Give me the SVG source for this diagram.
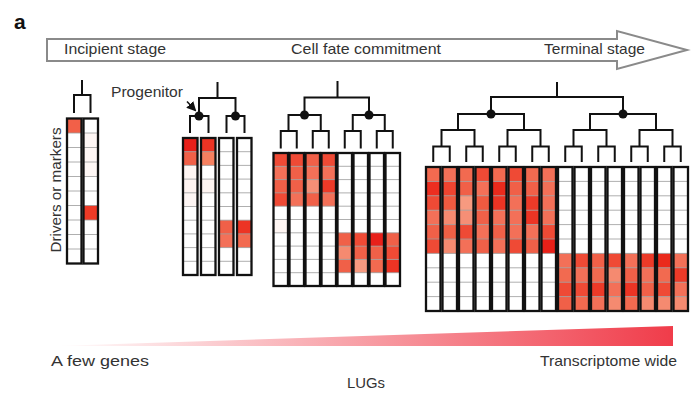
<svg xmlns="http://www.w3.org/2000/svg" xmlns:xlink="http://www.w3.org/1999/xlink" width="700" height="398" viewBox="0 0 700 398">
<style>
.t{font-family:"Liberation Sans",Arial,sans-serif;fill:#333}
.fr{fill:none;stroke:#111;stroke-width:2.3}
.rl{fill:none;stroke:#9a9a9a;stroke-width:0.8}
.tree{fill:none;stroke:#111;stroke-width:2}
</style>
<defs>
<linearGradient id="lg" x1="0" y1="0" x2="1" y2="0">
<stop offset="0" stop-color="#f03c4a" stop-opacity="0"/>
<stop offset="1" stop-color="#f03c4a" stop-opacity="1"/>
</linearGradient>
<marker id="ah" viewBox="0 0 10 10" refX="8" refY="5" markerWidth="6" markerHeight="6" orient="auto">
<path d="M0,0 L10,5 L0,10 z" fill="#111"/>
</marker>
<rect id="c1" width="14.5" height="14.5"/>
<rect id="c2" width="14.5" height="13.7"/>
<rect id="c3" width="14.5" height="13.3"/>
<rect id="c4" width="14.5" height="14.4"/>
<g id="f1"><path class="rl" d="M0,14.5H14.5M0,29H14.5M0,43.5H14.5M0,58H14.5M0,72.5H14.5M0,87H14.5M0,101.5H14.5M0,116H14.5M0,130.5H14.5"/><rect class="fr" width="14.5" height="145"/></g>
<g id="f2"><path class="rl" d="M0,13.7H14.5M0,27.4H14.5M0,41.1H14.5M0,54.8H14.5M0,68.5H14.5M0,82.2H14.5M0,95.9H14.5M0,109.6H14.5M0,123.3H14.5"/><rect class="fr" width="14.5" height="137"/></g>
<g id="f3"><path class="rl" d="M0,13.3H14.5M0,26.6H14.5M0,39.9H14.5M0,53.2H14.5M0,66.5H14.5M0,79.8H14.5M0,93.1H14.5M0,106.4H14.5M0,119.7H14.5"/><rect class="fr" width="14.5" height="133"/></g>
<g id="f4"><path class="rl" d="M0,14.4H14.5M0,28.8H14.5M0,43.2H14.5M0,57.6H14.5M0,72H14.5M0,86.4H14.5M0,100.8H14.5M0,115.2H14.5M0,129.6H14.5"/><rect class="fr" width="14.5" height="144"/></g>
</defs>
<rect width="700" height="398" fill="#fff"/>

<g id="panel-label"><text class="t" x="14" y="29" font-size="21" font-weight="bold" style="fill:#111">a</text></g>

<g id="stage-arrow">
<polygon points="47,39 617,39 617,31 687,50 617,69 617,61 47,61" fill="#fff" stroke="#8a8a8a" stroke-width="2"/>
<text class="t" x="64" y="54" font-size="15" textLength="102" lengthAdjust="spacingAndGlyphs">Incipient stage</text>
<text class="t" x="291" y="54" font-size="15" textLength="150" lengthAdjust="spacingAndGlyphs">Cell fate commitment</text>
<text class="t" x="544" y="54" font-size="15" textLength="101" lengthAdjust="spacingAndGlyphs">Terminal stage</text>
</g>

<g id="axis-label"><text class="t" transform="translate(61,190) rotate(-90)" text-anchor="middle" font-size="15" textLength="125" lengthAdjust="spacingAndGlyphs">Drivers or markers</text></g>

<g id="progenitor-label"><text class="t" x="111" y="97" font-size="15" textLength="72" lengthAdjust="spacingAndGlyphs">Progenitor</text></g>

<g id="connectors">
<path class="tree" d="M82,80V95M74,113V95H90.5V113"/>
<path class="tree" d="M217.5,82V98M199,116V98H235.5V116M190,133V116H208.5V133M226.5,133V116H244.5V133"/>
<circle cx="199" cy="116" r="4.5" fill="#111"/>
<circle cx="235.5" cy="116" r="4.5" fill="#111"/>
<path d="M187,101.5L195,110" fill="none" stroke="#111" stroke-width="1.6" marker-end="url(#ah)"/>
<path class="tree" d="M337.5,81V97.5M304.5,115V97.5H369V115M288.5,131V115H320.75V131M352.75,131V115H384.75V131M280.75,148.5V131H296.75V148.5M312.75,148.5V131H328.75V148.5M344.75,148.5V131H360.75V148.5M376.75,148.5V131H392.75V148.5"/>
<circle cx="304.5" cy="115" r="4.5" fill="#111"/>
<circle cx="369" cy="115" r="4.5" fill="#111"/>
<path class="tree" d="M557,82V97M491,114V97H623V114M458,130V114H524V130M590,130V114H656V130M441.5,146.5V130H474.5V146.5M507.5,146.5V130H540.5V146.5M573.5,146.5V130H606.5V146.5M639.5,146.5V130H672.5V146.5M433.25,162V146.5H449.75V162M466.25,162V146.5H482.75V162M499.25,162V146.5H515.75V162M532.25,162V146.5H548.75V162M565.25,162V146.5H581.75V162M598.25,162V146.5H614.75V162M631.25,162V146.5H647.75V162M664.25,162V146.5H680.75V162"/>
<circle cx="491" cy="114" r="4.5" fill="#111"/>
<circle cx="623" cy="114" r="4.5" fill="#111"/>
</g>

<g id="cluster-1">
<g transform="translate(67,118.5)"><use href="#c1" y="0" fill="#f26048"/><use href="#f1"/></g>
<g transform="translate(83.5,118.5)"><use href="#c1" y="14.5" fill="#fef6f4"/><use href="#c1" y="29" fill="#fef6f4"/><use href="#c1" y="43.5" fill="#fef7f5"/><use href="#c1" y="87" fill="#ee3a26"/><use href="#f1"/></g>
</g>

<g id="cluster-2">
<g transform="translate(183,138)"><use href="#c2" y="0" fill="#e8201a"/><use href="#c2" y="13.7" fill="#f06048"/><use href="#c2" y="27.4" fill="#fef5f2"/><use href="#c2" y="41.1" fill="#fef3f0"/><use href="#c2" y="54.8" fill="#fef6f4"/><use href="#f2"/></g>
<g transform="translate(201,138)"><use href="#c2" y="0" fill="#ec3424"/><use href="#c2" y="13.7" fill="#f58060"/><use href="#c2" y="41.1" fill="#fef5f2"/><use href="#f2"/></g>
<g transform="translate(219,138)"><use href="#c2" y="82.2" fill="#f06048"/><use href="#c2" y="95.9" fill="#f37058"/><use href="#f2"/></g>
<g transform="translate(237,138)"><use href="#c2" y="82.2" fill="#ec3424"/><use href="#c2" y="95.9" fill="#f26a50"/><use href="#f2"/></g>
</g>

<g id="cluster-3">
<g transform="translate(273.5,153)"><use href="#c3" y="0" fill="#ef4a35"/><use href="#c3" y="13.3" fill="#f37058"/><use href="#c3" y="26.6" fill="#f06048"/><use href="#c3" y="39.9" fill="#ef4a35"/><use href="#c3" y="66.5" fill="#fef5f2"/><use href="#f3"/></g>
<g transform="translate(289.5,153)"><use href="#c3" y="0" fill="#ef4a35"/><use href="#c3" y="13.3" fill="#f06048"/><use href="#c3" y="26.6" fill="#f06048"/><use href="#c3" y="39.9" fill="#f37058"/><use href="#f3"/></g>
<g transform="translate(305.5,153)"><use href="#c3" y="0" fill="#f06048"/><use href="#c3" y="13.3" fill="#f37058"/><use href="#c3" y="26.6" fill="#f58f76"/><use href="#c3" y="39.9" fill="#f06048"/><use href="#f3"/></g>
<g transform="translate(321.5,153)"><use href="#c3" y="0" fill="#ef4a35"/><use href="#c3" y="13.3" fill="#f37058"/><use href="#c3" y="26.6" fill="#ec3a28"/><use href="#c3" y="39.9" fill="#f37058"/><use href="#f3"/></g>
<g transform="translate(337.5,153)"><use href="#c3" y="79.8" fill="#f06048"/><use href="#c3" y="93.1" fill="#f58a70"/><use href="#c3" y="106.4" fill="#f06048"/><use href="#f3"/></g>
<g transform="translate(353.5,153)"><use href="#c3" y="79.8" fill="#ef4a35"/><use href="#c3" y="93.1" fill="#f06048"/><use href="#c3" y="106.4" fill="#f79a80"/><use href="#f3"/></g>
<g transform="translate(369.5,153)"><use href="#c3" y="79.8" fill="#e8201a"/><use href="#c3" y="93.1" fill="#f06048"/><use href="#c3" y="106.4" fill="#f26a50"/><use href="#f3"/></g>
<g transform="translate(385.5,153)"><use href="#c3" y="79.8" fill="#f06048"/><use href="#c3" y="93.1" fill="#ef4a35"/><use href="#c3" y="106.4" fill="#ec3424"/><use href="#f3"/></g>
</g>

<g id="cluster-4">
<g transform="translate(426,167)"><use href="#c4" y="0" fill="#f36a50"/><use href="#c4" y="14.4" fill="#ec2e20"/><use href="#c4" y="28.8" fill="#ef4a35"/><use href="#c4" y="43.2" fill="#f37058"/><use href="#c4" y="57.6" fill="#f06048"/><use href="#c4" y="72" fill="#ef4a35"/><use href="#f4"/></g>
<g transform="translate(442.5,167)"><use href="#c4" y="0" fill="#f37058"/><use href="#c4" y="14.4" fill="#ef4430"/><use href="#c4" y="28.8" fill="#f05a40"/><use href="#c4" y="43.2" fill="#f58a70"/><use href="#c4" y="57.6" fill="#f06045"/><use href="#c4" y="72" fill="#f58a70"/><use href="#f4"/></g>
<g transform="translate(459,167)"><use href="#c4" y="0" fill="#f26a50"/><use href="#c4" y="14.4" fill="#f06048"/><use href="#c4" y="28.8" fill="#f79a80"/><use href="#c4" y="43.2" fill="#f58f76"/><use href="#c4" y="57.6" fill="#ee4a35"/><use href="#c4" y="72" fill="#f37058"/><use href="#f4"/></g>
<g transform="translate(475.5,167)"><use href="#c4" y="0" fill="#ef4a35"/><use href="#c4" y="14.4" fill="#f37058"/><use href="#c4" y="28.8" fill="#f05a40"/><use href="#c4" y="43.2" fill="#f06048"/><use href="#c4" y="57.6" fill="#f37058"/><use href="#c4" y="72" fill="#f06048"/><use href="#f4"/></g>
<g transform="translate(492,167)"><use href="#c4" y="0" fill="#f26a50"/><use href="#c4" y="14.4" fill="#ea2a1c"/><use href="#c4" y="28.8" fill="#ec3424"/><use href="#c4" y="43.2" fill="#f37058"/><use href="#c4" y="57.6" fill="#f06048"/><use href="#c4" y="72" fill="#f37058"/><use href="#f4"/></g>
<g transform="translate(508.5,167)"><use href="#c4" y="0" fill="#ef4a35"/><use href="#c4" y="14.4" fill="#f06048"/><use href="#c4" y="28.8" fill="#f37058"/><use href="#c4" y="43.2" fill="#f37058"/><use href="#c4" y="57.6" fill="#f37058"/><use href="#c4" y="72" fill="#ef4a35"/><use href="#f4"/></g>
<g transform="translate(525,167)"><use href="#c4" y="0" fill="#f26a50"/><use href="#c4" y="14.4" fill="#f06048"/><use href="#c4" y="28.8" fill="#ec3a28"/><use href="#c4" y="43.2" fill="#ec3424"/><use href="#c4" y="57.6" fill="#f37058"/><use href="#c4" y="72" fill="#f06048"/><use href="#f4"/></g>
<g transform="translate(541.5,167)"><use href="#c4" y="0" fill="#f37058"/><use href="#c4" y="14.4" fill="#f37058"/><use href="#c4" y="28.8" fill="#f37058"/><use href="#c4" y="43.2" fill="#f37058"/><use href="#c4" y="57.6" fill="#ef4a35"/><use href="#c4" y="72" fill="#e82018"/><use href="#f4"/></g>
<g transform="translate(558,167)"><use href="#c4" y="86.4" fill="#f37058"/><use href="#c4" y="100.8" fill="#f26a50"/><use href="#c4" y="115.2" fill="#ef4a35"/><use href="#c4" y="129.6" fill="#f06048"/><use href="#f4"/></g>
<g transform="translate(574.5,167)"><use href="#c4" y="86.4" fill="#ef4a35"/><use href="#c4" y="100.8" fill="#f37058"/><use href="#c4" y="115.2" fill="#ef4a35"/><use href="#c4" y="129.6" fill="#f26a50"/><use href="#f4"/></g>
<g transform="translate(591,167)"><use href="#c4" y="86.4" fill="#f06048"/><use href="#c4" y="100.8" fill="#f26a50"/><use href="#c4" y="115.2" fill="#ec3a28"/><use href="#c4" y="129.6" fill="#f37058"/><use href="#f4"/></g>
<g transform="translate(607.5,167)"><use href="#c4" y="86.4" fill="#ef4a35"/><use href="#c4" y="100.8" fill="#f58a70"/><use href="#c4" y="115.2" fill="#f37058"/><use href="#c4" y="129.6" fill="#f58a70"/><use href="#f4"/></g>
<g transform="translate(624,167)"><use href="#c4" y="86.4" fill="#f37058"/><use href="#c4" y="100.8" fill="#f06048"/><use href="#c4" y="115.2" fill="#ec3424"/><use href="#c4" y="129.6" fill="#f26a50"/><use href="#f4"/></g>
<g transform="translate(640.5,167)"><use href="#c4" y="86.4" fill="#ec3a28"/><use href="#c4" y="100.8" fill="#f37058"/><use href="#c4" y="115.2" fill="#f06048"/><use href="#c4" y="129.6" fill="#f58a70"/><use href="#f4"/></g>
<g transform="translate(657,167)"><use href="#c4" y="86.4" fill="#ea2a1c"/><use href="#c4" y="100.8" fill="#f26a50"/><use href="#c4" y="115.2" fill="#ef4a35"/><use href="#c4" y="129.6" fill="#f58a70"/><use href="#f4"/></g>
<g transform="translate(673.5,167)"><use href="#c4" y="86.4" fill="#f37058"/><use href="#c4" y="100.8" fill="#ec3a28"/><use href="#c4" y="115.2" fill="#f37058"/><use href="#c4" y="129.6" fill="#f58a70"/><use href="#f4"/></g>
</g>

<g id="lug-gradient">
<polygon points="55,346 673,326 673,346" fill="url(#lg)"/>
<text class="t" x="51" y="366" font-size="15" textLength="98" lengthAdjust="spacingAndGlyphs">A few genes</text>
<text class="t" x="677" y="366" font-size="15" text-anchor="end" textLength="137" lengthAdjust="spacingAndGlyphs">Transcriptome wide</text>
<text class="t" x="366" y="388" font-size="15" text-anchor="middle" textLength="38" lengthAdjust="spacingAndGlyphs">LUGs</text>
</g>
</svg>
